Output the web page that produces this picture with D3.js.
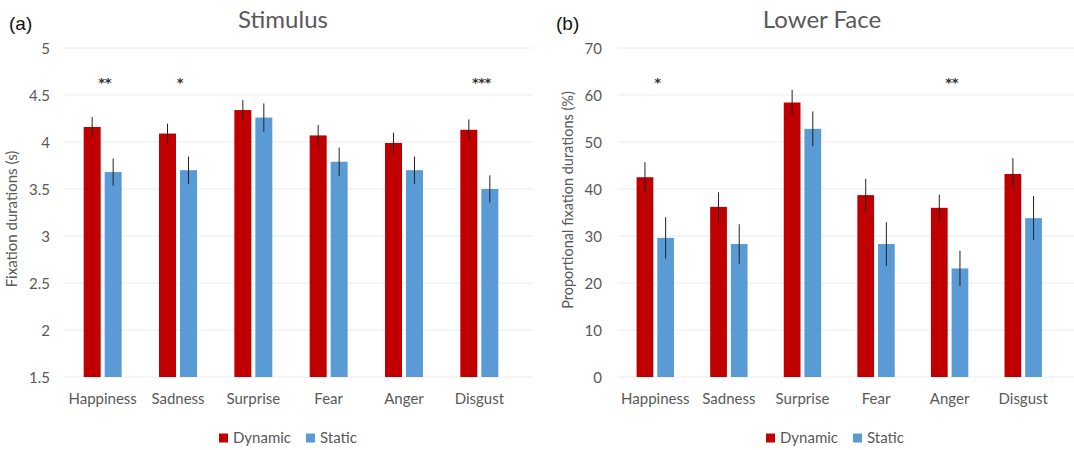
<!DOCTYPE html>
<html>
<head>
<meta charset="utf-8">
<script src="https://cdn.jsdelivr.net/npm/d3@7"></script>
<style>
  html, body { margin: 0; padding: 0; background: #fff; }
  svg { display: block; }
</style>
</head>
<body>
<svg id="chart" width="1074" height="450"></svg>
<script>
// Emotion categories shared by both panels
const categories = ["Happiness", "Sadness", "Surprise", "Fear", "Anger", "Disgust"];
const seriesNames = ["Dynamic", "Static"];

// Panel (a): fixation durations on the stimulus (s)
const stimDynamic    = [4.16, 4.09, 4.34, 4.07, 3.99, 4.13];
const stimStatic     = [3.68, 3.70, 4.26, 3.79, 3.70, 3.50];
const stimDynamicErr = [0.105, 0.105, 0.105, 0.11, 0.11, 0.11];
const stimStaticErr  = [0.145, 0.145, 0.15, 0.15, 0.145, 0.145];
const stimStars      = ["**", "*", "", "", "", "***"];
const stimTicks      = [1.5, 2, 2.5, 3, 3.5, 4, 4.5, 5];

// Panel (b): proportional fixation durations on the lower face (%)
const faceDynamic    = [42.5, 36.2, 58.4, 38.7, 36.0, 43.2];
const faceStatic     = [29.6, 28.3, 52.8, 28.3, 23.1, 33.8];
const faceDynamicErr = [3.2, 3.1, 2.7, 3.45, 2.8, 3.35];
const faceStaticErr  = [4.4, 4.2, 3.7, 4.65, 3.75, 4.7];
const faceStars      = ["*", "", "", "", "**", ""];
const faceTicks      = [0, 10, 20, 30, 40, 50, 60, 70];

const colors = { Dynamic: "#C00000", Static: "#5B9BD5" };
const textGray = "#595959";
const font = "Lato, 'Open Sans', sans-serif";

const svg = d3.select("#chart");

function drawPanel(cfg) {
  const g = svg.append("g");
  const y = d3.scaleLinear().domain(cfg.domain).range([377, 48]);
  const x0 = d3.scaleBand().domain(categories).range(cfg.xRange).padding(0);
  const half = cfg.groupHalf;
  const x1 = d3.scaleBand().domain(seriesNames).range([-half, half]).paddingInner(0.19);

  // horizontal gridlines
  g.append("g").selectAll("line").data(cfg.ticks).join("line")
    .attr("x1", cfg.gridX[0]).attr("x2", cfg.gridX[1])
    .attr("y1", d => y(d)).attr("y2", d => y(d))
    .attr("stroke", "#ececec").attr("stroke-width", 1);

  // y axis tick labels
  const yAxis = d3.axisLeft(y).tickValues(cfg.ticks).tickSize(0).tickPadding(0)
    .tickFormat(d3.format("~g"));
  const ya = g.append("g").attr("transform", `translate(${cfg.labelX},0)`).call(yAxis);
  ya.select(".domain").remove();
  ya.selectAll("text").attr("font-family", font).attr("font-size", 15)
    .attr("fill", textGray).attr("dy", "0.35em");

  // x axis category labels
  const xAxis = d3.axisBottom(x0).tickSize(0).tickPadding(0);
  const xa = g.append("g").attr("transform", "translate(0,392)").call(xAxis);
  xa.select(".domain").remove();
  xa.selectAll("text").attr("font-family", font).attr("font-size", 15)
    .attr("fill", textGray).attr("dy", "0.35em").attr("y", 7);

  const rows = categories.map((c, i) => ({
    cat: c,
    vals: [
      { s: "Dynamic", v: cfg.dyn[i], e: cfg.dynErr[i] },
      { s: "Static",  v: cfg.sta[i], e: cfg.staErr[i] }
    ],
    star: cfg.stars[i]
  }));

  const groups = g.append("g").selectAll("g").data(rows).join("g")
    .attr("transform", d => `translate(${x0(d.cat) + x0.bandwidth() / 2},0)`);

  const bars = groups.selectAll("g").data(d => d.vals).join("g");
  bars.append("rect")
    .attr("x", d => x1(d.s))
    .attr("width", x1.bandwidth())
    .attr("y", d => y(d.v))
    .attr("height", d => y(cfg.domain[0]) - y(d.v))
    .attr("fill", d => colors[d.s]);

  // error bars (plain vertical whiskers)
  bars.append("line")
    .attr("x1", d => x1(d.s) + x1.bandwidth() / 2)
    .attr("x2", d => x1(d.s) + x1.bandwidth() / 2)
    .attr("y1", d => y(d.v + d.e))
    .attr("y2", d => y(d.v - d.e))
    .attr("stroke", "#222").attr("stroke-width", 1);

  // significance markers
  groups.append("text")
    .attr("x", 2).attr("y", 87)
    .attr("text-anchor", "middle")
    .attr("font-family", "'DejaVu Sans', sans-serif").attr("font-size", 13)
    .attr("font-weight", "bold").attr("fill", "#333")
    .attr("letter-spacing", "-0.5px")
    .text(d => d.star);

  // title
  g.append("text").attr("x", cfg.titleX).attr("y", 28)
    .attr("text-anchor", "middle").attr("font-family", font).attr("font-size", 24)
    .attr("fill", textGray).text(cfg.title);

  // panel letter
  g.append("text").attr("x", cfg.letterX).attr("y", 30)
    .attr("font-family", "'Liberation Sans', Arial, sans-serif").attr("font-size", 19)
    .attr("fill", "#111").text(cfg.letter);

  // y axis title
  g.append("text")
    .attr("transform", `translate(${cfg.yTitleX},${cfg.yTitleY}) rotate(-90)`)
    .attr("text-anchor", "middle").attr("font-family", font).attr("font-size", cfg.yTitleSize)
    .attr("fill", textGray).attr("dy", "0.35em").text(cfg.yTitle);

  // legend
  const lg = g.append("g").attr("transform", `translate(${cfg.legendX},438)`);
  const items = lg.selectAll("g").data(seriesNames).join("g")
    .attr("transform", (d, i) => `translate(${i * cfg.legendStep},0)`);
  items.append("rect").attr("x", 0).attr("y", -4.5).attr("width", 9).attr("height", 9)
    .attr("fill", d => colors[d]);
  items.append("text").attr("x", 14).attr("y", 0).attr("dy", "0.35em")
    .attr("font-family", font).attr("font-size", 15).attr("fill", textGray)
    .text(d => d);
}

drawPanel({
  domain: [1.5, 5], ticks: stimTicks,
  xRange: [65, 517], gridX: [64, 533], groupHalf: 19,
  labelX: 50,
  dyn: stimDynamic, sta: stimStatic, dynErr: stimDynamicErr, staErr: stimStaticErr,
  stars: stimStars,
  title: "Stimulus", titleX: 283, letter: "(a)", letterX: 9,
  yTitle: "Fixation durations (s)", yTitleX: 12, yTitleY: 219, yTitleSize: 15,
  legendX: 219, legendStep: 87
});

drawPanel({
  domain: [0, 70], ticks: faceTicks,
  xRange: [618.5, 1060], gridX: [618, 1074], groupHalf: 18.7,
  labelX: 602,
  dyn: faceDynamic, sta: faceStatic, dynErr: faceDynamicErr, staErr: faceStaticErr,
  stars: faceStars,
  title: "Lower Face", titleX: 822, letter: "(b)", letterX: 556,
  yTitle: "Proportional fixation durations (%)", yTitleX: 568, yTitleY: 200, yTitleSize: 14.5,
  legendX: 766, legendStep: 87
});
</script>
</body>
</html>
